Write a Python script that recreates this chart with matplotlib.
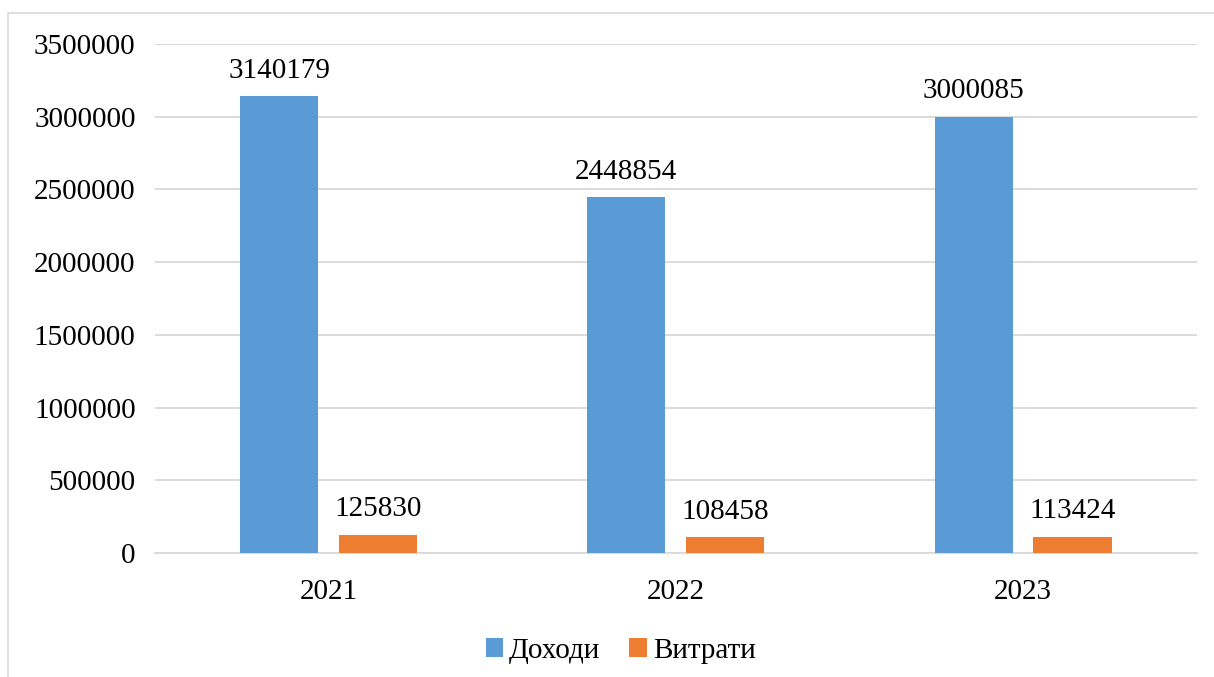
import matplotlib.pyplot as plt
import numpy as np

years = ['2021', '2022', '2023']
income = [3140179, 2448854, 3000085]
expenses = [125830, 108458, 113424]

plt.rcParams['font.family'] = ['Liberation Serif', 'DejaVu Serif']

fig = plt.figure(figsize=(12.14, 6.77), dpi=100)
ax = fig.add_axes([0.1277, 0.183, 0.858, 0.752])

# outer chart frame (only left/top visible in the original)
fig.patches.append(plt.Rectangle((8 / 1214, -0.05), 1.2, 1 - 13 / 677 + 0.05,
                                 transform=fig.transFigure, fill=False,
                                 edgecolor='#d9d9d9', linewidth=1.2))

x = np.arange(len(years))
w = 0.225
off = 0.285
b1 = ax.bar(x - off / 2, income, w, color='#5b9bd5', label='Доходи', zorder=3)
b2 = ax.bar(x + off / 2, expenses, w, color='#ed7d31', label='Витрати', zorder=3)

for bars, vals in ((b1, income), (b2, expenses)):
    for r, v in zip(bars, vals):
        ax.text(r.get_x() + r.get_width() / 2, v + 85000, str(v),
                ha='center', va='bottom', fontsize=21)

ax.set_xlim(-0.5, 2.5)
ax.set_ylim(0, 3500000)
ax.set_yticks(range(0, 3500001, 500000))
ax.set_yticklabels([str(t) for t in range(0, 3500001, 500000)])
ax.set_xticks(x)
ax.set_xticklabels(years)
ax.tick_params(axis='both', length=0, labelsize=21, pad=14)
ax.tick_params(axis='x', pad=19)
ax.grid(axis='y', color='#d9d9d9', linewidth=1.3, zorder=0)
for s in ['top', 'right', 'left']:
    ax.spines[s].set_visible(False)
ax.spines['bottom'].set_color('#d9d9d9')
ax.spines['bottom'].set_linewidth(1.3)

ax.legend(loc='upper center', bbox_to_anchor=(0.447, -0.115), ncol=2, frameon=False,
          fontsize=21, handlelength=0.6, handleheight=0.6, handletextpad=0.2,
          columnspacing=1.0)

fig.savefig('out.png', dpi=100)
